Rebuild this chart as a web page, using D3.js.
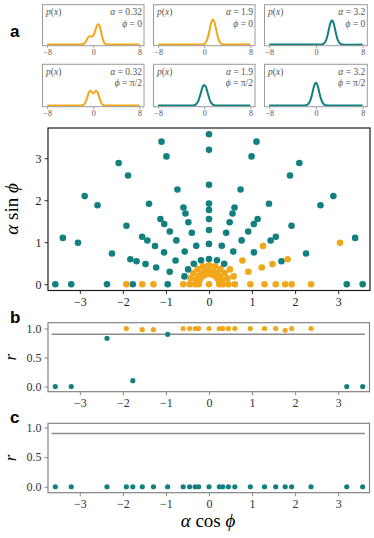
<!DOCTYPE html>
<html>
<head>
<meta charset="UTF-8">
<script src="https://d3js.org/d3.v7.min.js"></script>
<style>
  body { margin: 0; background: #fff; }
  svg { display: block; }
  .math { font-family: "Liberation Serif", "Times New Roman", serif; }
  .tag { font-family: "Liberation Sans", Arial, sans-serif; font-weight: bold; }
</style>
</head>
<body>
<svg id="fig" width="374" height="538"></svg>
<script>
// ---------- data ----------
const alphas = [0.24, 0.32, 0.45, 0.6, 0.96, 1.29, 1.55, 1.77, 1.92, 2.37, 3.2, 3.57];
const phiDeg = [0, 18, 36, 54, 72, 90, 108, 126, 144, 162, 180];
// one row per alpha, one letter per phi: o = orange, t = teal
const classes = [
  ["o","o","o","o","o","o","o","o","o","o","o"],
  ["o","o","o","o","o","o","o","o","o","o","o"],
  ["o","o","o","o","o","o","o","o","o","o","o"],
  ["o","o","o","t","t","t","t","t","t","t","o"],
  ["o","o","o","t","t","t","t","t","t","t","t"],
  ["o","o","t","t","t","t","t","t","t","t","o"],
  ["o","o","o","t","t","t","t","t","t","t","o"],
  ["o","t","t","t","t","t","t","t","t","t","t"],
  ["o","o","t","t","t","t","t","t","t","t","o"],
  ["o","t","t","t","t","t","t","t","t","t","t"],
  ["t","o","t","t","t","t","t","t","t","t","t"],
  ["t","t","t","t","t","t","t","t","t","t","t"]
];
const originClass = "o";

// panel b: r at phi = 0 and phi = pi (same order as alphas)
const rPhi0  = [1, 1, 1, 1, 1, 1, 1, 0.97, 1, 1, 0, 0];
const rPhiPi = [1, 1, 1, 1, 0.9, 0.98, 0.98, 0.1, 1, 0.83, 0, 0];
const rOrigin = 1;
// panel c
const rcPhi0  = [0, 0, 0, 0, 0, 0, 0, 0, 0, 0, 0, 0];
const rcPhiPi = [0, 0, 0, 0, 0, 0, 0, 0, 0, 0, 0, 0];
const rcOrigin = 0;
const threshold = 0.9;

// panel a: p(x) curves
const pxGrid = [-8, -3, -2.75, -2.5, -2.25, -2, -1.75, -1.5, -1.25, -1, -0.75, -0.5, -0.25, 0,
  0.25, 0.5, 0.75, 1, 1.25, 1.5, 1.75, 2, 2.25, 2.5, 2.75, 3, 3.25, 3.5, 3.75, 4, 4.25, 4.5, 8];
const pA = [0, 0, 0, 0, 0, 0.003, 0.01, 0.03, 0.08, 0.15, 0.2, 0.21, 0.2, 0.22,
  0.3, 0.42, 0.5, 0.5, 0.39, 0.23, 0.1, 0.03, 0.005, 0, 0, 0, 0, 0, 0, 0, 0, 0, 0];
const pB = [0, 0, 0, 0, 0, 0, 0, 0, 0, 0, 0, 0, 0, 0.015,
  0.05, 0.12, 0.25, 0.42, 0.57, 0.63, 0.57, 0.42, 0.25, 0.12, 0.05, 0.015, 0, 0, 0, 0, 0, 0, 0];
const pC = [0, 0, 0, 0, 0, 0, 0, 0, 0, 0, 0, 0, 0, 0,
  0, 0, 0, 0, 0.015, 0.05, 0.11, 0.24, 0.4, 0.55, 0.61, 0.55, 0.4, 0.24, 0.11, 0.05, 0.015, 0, 0];
const pD = [0, 0, 0, 0, 0, 0, 0.01, 0.04, 0.11, 0.22, 0.32, 0.36, 0.32, 0.29,
  0.32, 0.36, 0.32, 0.22, 0.11, 0.04, 0.01, 0, 0, 0, 0, 0, 0, 0, 0, 0, 0, 0, 0];
const pE = [0, 0, 0, 0, 0, 0, 0.007, 0.022, 0.057, 0.12, 0.23, 0.35, 0.46, 0.5,
  0.46, 0.35, 0.23, 0.12, 0.057, 0.022, 0.007, 0, 0, 0, 0, 0, 0, 0, 0, 0, 0, 0, 0];
const pF = [0, 0, 0, 0, 0, 0, 0.003, 0.013, 0.043, 0.11, 0.22, 0.37, 0.5, 0.56,
  0.5, 0.37, 0.22, 0.11, 0.043, 0.013, 0.003, 0, 0, 0, 0, 0, 0, 0, 0, 0, 0, 0, 0];
const subAlpha = ["0.32", "1.9", "3.2", "0.32", "1.9", "3.2"];
const subPhi = ["0", "0", "0", "π/2", "π/2", "π/2"];
const subCurves = [pA, pB, pC, pD, pE, pF];
const subClass = ["o", "o", "t", "o", "t", "t"];
const subTicks = [-8, 0, 8];
const mainXTicks = [-3, -2, -1, 0, 1, 2, 3];
const mainYTicks = [0, 1, 2, 3];
const rTicks = [0, 0.5, 1];

// ---------- drawing ----------
const colors = { o: "#f2a71b", t: "#12807f" };
const svg = d3.select("#fig");
const PHI = "\u03D5";

function styleAxis(g, size, color, textColor) {
  g.select(".domain").remove();
  g.selectAll(".tick line").attr("stroke", color).attr("stroke-width", 0.9);
  g.selectAll(".tick text").attr("class", "math").attr("font-size", size).attr("fill", textColor);
}

// panel a
const colsX = [[42.5, 144], [153.5, 255], [264.5, 367.3]];
const rowsY = [[4.7, 45.7], [64.3, 106.7]];
subCurves.forEach((curve, i) => {
  const [x0, x1] = colsX[i % 3], [y0, y1] = rowsY[Math.floor(i / 3)];
  const sx = d3.scaleLinear([-8.8, 8.8], [x0, x1]);
  const sy = d3.scaleLinear([-0.03, 1], [y1, y0]);
  const g = svg.append("g");
  g.append("path")
    .datum(pxGrid.map((x, k) => [x, curve[k]]))
    .attr("fill", "none")
    .attr("stroke", colors[subClass[i]])
    .attr("stroke-width", 2)
    .attr("d", d3.line().x(d => sx(d[0])).y(d => sy(d[1])).curve(d3.curveCatmullRom));
  g.append("rect").attr("x", x0).attr("y", y0).attr("width", x1 - x0).attr("height", y1 - y0)
    .attr("fill", "none").attr("stroke", "#9a9a9a").attr("stroke-width", 1);
  const ax = g.append("g").attr("transform", `translate(0,${y1})`)
    .call(d3.axisBottom(sx).tickValues(subTicks).tickFormat(d3.format("d")).tickSize(2.5).tickPadding(1.5));
  styleAxis(ax, 8, "#9a9a9a", "#555");
  const t = g.append("g").attr("class", "math").attr("font-size", 9.5).attr("fill", "#555");
  const pt = t.append("text").attr("x", x0 + 3.5).attr("y", y0 + 10.5);
  pt.append("tspan").attr("font-style", "italic").text("p");
  pt.append("tspan").text("(");
  pt.append("tspan").attr("font-style", "italic").text("x");
  pt.append("tspan").text(")");
  const at = t.append("text").attr("x", x1 - 2).attr("y", y0 + 10.5).attr("text-anchor", "end");
  at.append("tspan").attr("font-style", "italic").text("α");
  at.append("tspan").text(" = " + subAlpha[i]);
  const ft = t.append("text").attr("x", x1 - 2).attr("y", y0 + 22).attr("text-anchor", "end");
  ft.append("tspan").attr("font-style", "italic").text(PHI);
  ft.append("tspan").text(" = " + subPhi[i]);
});

// main panel
const xMain = d3.scaleLinear([-3.74, 3.74], [48, 370]);
const yMain = d3.scaleLinear([-0.15, 3.72], [290.5, 128]);
const points = [{ a: 0, p: 90, c: originClass }];
alphas.forEach((a, i) => phiDeg.forEach((p, k) => points.push({ a, p, c: classes[i][k] })));
const mg = svg.append("g");
mg.selectAll("circle").data(points).join("circle")
  .attr("cx", d => xMain(d.a * Math.cos(d.p * Math.PI / 180)))
  .attr("cy", d => yMain(d.a * Math.sin(d.p * Math.PI / 180)))
  .attr("r", 3.3)
  .attr("fill", d => colors[d.c]);
mg.append("rect").attr("x", 48).attr("y", 128).attr("width", 322).attr("height", 162.5)
  .attr("fill", "none").attr("stroke", "#1a1a1a").attr("stroke-width", 1.2);
const mx = mg.append("g").attr("transform", "translate(0,290.5)")
  .call(d3.axisBottom(xMain).tickValues(mainXTicks).tickFormat(d3.format("d")).tickSize(3.5).tickPadding(3));
styleAxis(mx, 12, "#1a1a1a", "#222");
const my = mg.append("g").attr("transform", "translate(48,0)")
  .call(d3.axisLeft(yMain).tickValues(mainYTicks).tickFormat(d3.format("d")).tickSize(3.5).tickPadding(3));
styleAxis(my, 12, "#1a1a1a", "#222");
const yl = mg.append("text").attr("class", "math").attr("font-size", 19)
  .attr("transform", "translate(18,209) rotate(-90)").attr("text-anchor", "middle");
yl.append("tspan").attr("font-style", "italic").text("α");
yl.append("tspan").text(" sin ");
yl.append("tspan").attr("font-style", "italic").text(PHI);

// panels b and c
function rPanel(y0, y1, yDom, r0, rPi, rOrig, colorOf) {
  const ys = d3.scaleLinear(yDom, [y1, y0]);
  const pts = [{ x: 0, r: rOrig, c: colorOf(originClass) }];
  alphas.forEach((a, i) => {
    pts.push({ x: a, r: r0[i], c: colorOf(classes[i][0]) });
    pts.push({ x: -a, r: rPi[i], c: colorOf(classes[i][10]) });
  });
  const g = svg.append("g");
  g.append("line").attr("x1", xMain(-3.66)).attr("x2", xMain(3.62))
    .attr("y1", ys(threshold)).attr("y2", ys(threshold))
    .attr("stroke", "#8c8c8c").attr("stroke-width", 1.5);
  g.selectAll("circle").data(pts).join("circle")
    .attr("cx", d => xMain(d.x)).attr("cy", d => ys(d.r)).attr("r", 2.6)
    .attr("fill", d => colors[d.c]);
  g.append("rect").attr("x", 48).attr("y", y0).attr("width", 321.5).attr("height", y1 - y0)
    .attr("fill", "none").attr("stroke", "#7a7a7a").attr("stroke-width", 1.1);
  const ax = g.append("g").attr("transform", `translate(0,${y1})`)
    .call(d3.axisBottom(xMain).tickValues(mainXTicks).tickFormat(d3.format("d")).tickSize(3.5).tickPadding(3));
  styleAxis(ax, 12, "#7a7a7a", "#333");
  const ay = g.append("g").attr("transform", "translate(48,0)")
    .call(d3.axisLeft(ys).tickValues(rTicks).tickFormat(d3.format(".1f")).tickSize(3.5).tickPadding(3));
  styleAxis(ay, 12, "#7a7a7a", "#333");
  g.append("text").attr("class", "math").attr("font-size", 17).attr("font-style", "italic")
    .attr("text-anchor", "middle")
    .attr("transform", `translate(16,${(y0 + y1) / 2}) rotate(-90)`).text("r");
}
rPanel(322.7, 391.7, [-0.09, 1.1], rPhi0, rPhiPi, rOrigin, c => c);
rPanel(423.3, 492.7, [-0.1, 1.07], rcPhi0, rcPhiPi, rcOrigin, c => "t");

const xl = svg.append("text").attr("class", "math").attr("font-size", 19)
  .attr("x", 208).attr("y", 527).attr("text-anchor", "middle");
xl.append("tspan").attr("font-style", "italic").text("α");
xl.append("tspan").text(" cos ");
xl.append("tspan").attr("font-style", "italic").text(PHI);

// panel tags
[["a", 37], ["b", 323], ["c", 423]].forEach(([t, y]) =>
  svg.append("text").attr("class", "tag").attr("font-size", 17).attr("x", 10).attr("y", y).text(t));
</script>
</body>
</html>
